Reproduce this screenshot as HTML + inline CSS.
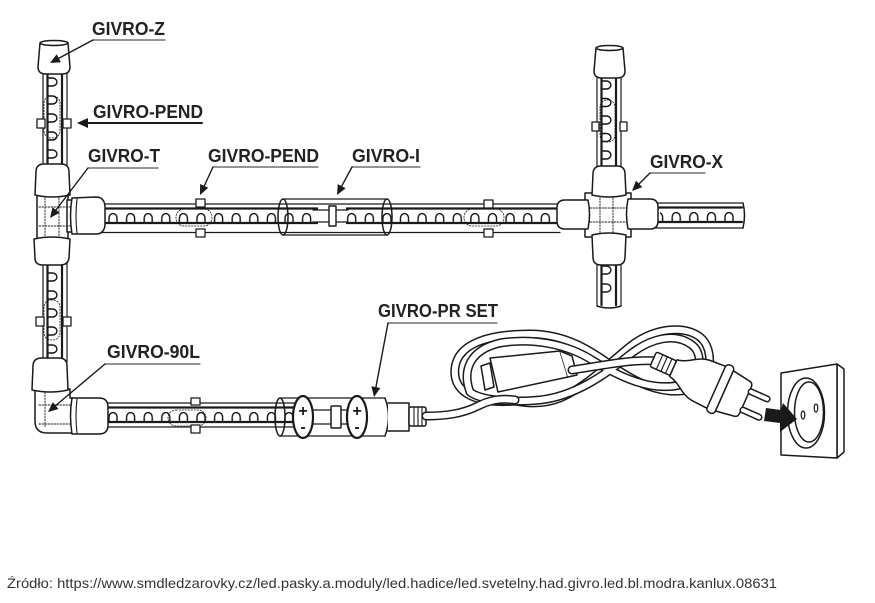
<!DOCTYPE html>
<html><head><meta charset="utf-8">
<style>
html,body{margin:0;padding:0;background:#fff;width:875px;height:603px;overflow:hidden}
svg{display:block}
.l{font-family:"Liberation Sans",Arial,sans-serif;font-weight:bold;font-size:18px;fill:#222}
</style></head><body>
<svg width="875" height="603" viewBox="0 0 875 603" xmlns="http://www.w3.org/2000/svg">
<defs>
<pattern id="lh1" patternUnits="userSpaceOnUse" x="104.2" y="0" width="17.6" height="40"><path d="M4.8,19 v-5 a4,4.4 0 0 1 8,0 v5" fill="none" stroke="#111" stroke-width="1.4"/></pattern>
<pattern id="lh2" patternUnits="userSpaceOnUse" x="342.9" y="0" width="17.6" height="40"><path d="M4.8,19 v-5 a4,4.4 0 0 1 8,0 v5" fill="none" stroke="#111" stroke-width="1.4"/></pattern>
<pattern id="lv1" patternUnits="userSpaceOnUse" x="4.5" y="73" width="40" height="18"><path d="M0,5 h5 a4.4,4 0 0 1 0,8 h-5" fill="none" stroke="#111" stroke-width="1.4"/></pattern>
<pattern id="lv2" patternUnits="userSpaceOnUse" x="4.5" y="268" width="40" height="18"><path d="M0,5 h5 a4.4,4 0 0 1 0,8 h-5" fill="none" stroke="#111" stroke-width="1.4"/></pattern>
<pattern id="lv3" patternUnits="userSpaceOnUse" x="4.5" y="76" width="40" height="17.5"><path d="M0,5 h5 a4.4,4 0 0 1 0,8 h-5" fill="none" stroke="#111" stroke-width="1.4"/></pattern>
<path id="cEntry" d="M426,416 C445,416 462,414 478,406 C490,400 500,398 515,400"/>
<path id="cA" d="M515,401 C480,404 452,395 455,368 C458,343 490,334 530,334 C565,334 590,350 612,366 C635,382 660,395 688,390 C712,385 716,350 700,337 C684,325 655,328 632,345 C610,362 590,385 560,398 C545,404 530,404 515,401"/>
<path id="cB" d="M470,392 C462,370 470,350 500,343 C530,338 565,343 592,360 C618,376 650,392 680,385 C700,380 705,355 692,345 C675,332 650,338 628,356 C605,375 575,396 540,400 C510,403 480,400 470,392"/>
<path id="cP" d="M572,370 C600,366 630,359 658,361"/>
</defs>

<g fill="none" stroke="#1a1a1a" stroke-width="1.5" stroke-linejoin="round" stroke-linecap="round">

<!-- top horizontal tube -->
<g transform="translate(0,204)">
<rect x="100" y="0" width="460" height="28.5" fill="#fff" stroke="none"/>
<rect x="104" y="8" width="214" height="12" fill="url(#lh1)" stroke="none"/>
<rect x="345" y="8" width="212" height="12" fill="url(#lh2)" stroke="none"/>
<path d="M100,0H560M100,28.5H560" stroke-width="1.2"/>
<path d="M100,4.5H318M346,4.5H560M100,19H318M346,19H560" stroke-width="2.2"/>
</g>
<!-- right tube after X -->
<g transform="translate(0,203)">
<rect x="655" y="0" width="88" height="25" fill="#fff" stroke="none"/>
<rect x="660" y="8" width="80" height="12" fill="url(#lh1)" stroke="none"/>
<path d="M655,0H743M655,25H743" stroke-width="1.2"/>
<path d="M655,4.5H742M655,19H742" stroke-width="2.2"/>
<path d="M743,0 Q746,12 743,25"/>
</g>
<!-- bottom tube -->
<g transform="translate(0,403)">
<rect x="100" y="0" width="195" height="24" fill="#fff" stroke="none"/>
<rect x="104" y="8" width="190" height="12" fill="url(#lh1)" stroke="none"/>
<path d="M100,0H295M100,24H295" stroke-width="1.2"/>
<path d="M100,4.5H295M100,19H295" stroke-width="2.2"/>
</g>
<!-- left vertical upper -->
<g transform="translate(43,0)">
<rect x="0" y="70" width="24" height="98" fill="#fff" stroke="none"/>
<rect x="3" y="73" width="14" height="92" fill="url(#lv1)" stroke="none"/>
<path d="M0,70V168M24,70V168" stroke-width="1.2"/>
<path d="M4.5,70V168M19,70V168" stroke-width="2.2"/>
</g>
<!-- left vertical lower -->
<g transform="translate(43,0)">
<rect x="0" y="260" width="24" height="102" fill="#fff" stroke="none"/>
<rect x="3" y="268" width="14" height="90" fill="url(#lv2)" stroke="none"/>
<path d="M0,260V362M24,260V362" stroke-width="1.2"/>
<path d="M4.5,260V362M19,260V362" stroke-width="2.2"/>
</g>
<!-- X vertical upper -->
<g transform="translate(597,0)">
<rect x="0" y="75" width="24" height="95" fill="#fff" stroke="none"/>
<rect x="3" y="76" width="14" height="92" fill="url(#lv3)" stroke="none"/>
<path d="M0,75V170M24,75V170" stroke-width="1.2"/>
<path d="M4.5,75V170M19,75V170" stroke-width="2.2"/>
</g>
<!-- X vertical lower -->
<g transform="translate(597,0)">
<rect x="0" y="260" width="24" height="47" fill="#fff" stroke="none"/>
<path d="M4.5,266 h5 a4.4,4 0 0 1 0,8 h-5 M4.5,284 h5 a4.4,4 0 0 1 0,8 h-5" stroke-width="1.4"/>
<path d="M0,260V306M24,260V306" stroke-width="1.2"/>
<path d="M4.5,260V305M19,260V305" stroke-width="2.2"/>
<path d="M0,306 Q12,310 24,306"/>
</g>

<!-- dotted clip zones -->
<g stroke-width="0.8" stroke-dasharray="1.5 1.5">
<rect x="44" y="96" width="16" height="42" rx="7"/>
<rect x="44" y="300" width="16" height="40" rx="7"/>
<rect x="600" y="100" width="15" height="42" rx="7"/>
<rect x="176" y="209" width="36" height="17" rx="8"/>
<rect x="464" y="209" width="40" height="17" rx="8"/>
<rect x="168" y="410" width="38" height="16" rx="8"/>
</g>
<!-- clips -->
<g fill="#fff" stroke-width="1.3">
<rect x="37" y="119" width="8" height="9"/><rect x="63" y="119" width="8" height="9"/>
<rect x="36" y="317" width="8" height="9"/><rect x="63" y="317" width="8" height="9"/>
<rect x="592" y="122" width="7" height="9"/><rect x="620" y="122" width="7" height="9"/>
<rect x="196" y="199" width="9" height="8"/><rect x="196" y="229" width="9" height="8"/>
<rect x="484" y="200" width="9" height="8"/><rect x="484" y="229" width="9" height="8"/>
<rect x="191" y="398" width="9" height="7"/><rect x="191" y="425" width="9" height="8"/>
</g>

<!-- GIVRO-I sleeve -->
<rect x="318" y="206" width="28" height="25" fill="#fff" stroke="none"/>
<path d="M313,210H330M313,222H330M336,210H348M336,222H348" stroke-width="1.3"/>
<rect x="329" y="206" width="7" height="20" fill="#fff" stroke-width="1.4"/>
<path d="M283,199H387M283,235H387" stroke-width="1.3"/>
<ellipse cx="283" cy="217" rx="5" ry="18"/>
<ellipse cx="387" cy="217" rx="5" ry="18"/>

<!-- Z cap -->
<path d="M40,43 L38,67 Q38,74 46,74 H62 Q70,74 70,67 L68,43 Z" fill="#fff"/>
<ellipse cx="54" cy="43" rx="14" ry="2.5" fill="#fff"/>
<!-- X top cap -->
<path d="M596,48 L594,71 Q594,78 602,78 H617 Q625,78 625,71 L623,48 Z" fill="#fff"/>
<ellipse cx="609.5" cy="48" rx="13.5" ry="2.5" fill="#fff"/>

<!-- T connector -->
<rect x="37" y="192" width="31" height="48" fill="#fff"/>
<rect x="67" y="200" width="8" height="32" fill="#fff"/>
<path d="M45,195V238M59,195V238M39,207H74M39,226H74" stroke-width="0.9" stroke-dasharray="1.5 1.5"/>
<path d="M35,195 L36,172 Q36,164 44,164 H61 Q69,164 69,172 L70,195 Q52,199 35,195 Z" fill="#fff"/>
<path d="M72,198 L96,197 Q104,197 105,206 L105,225 Q104,234 96,234 L72,234 Q69,216 72,198 Z" fill="#fff"/>
<path d="M77,199 Q75,216 77,233" stroke-width="1.1"/>
<path d="M34,239 Q52,235 70,239 L69,258 Q68,265 60,265 H43 Q35,265 35,258 Z" fill="#fff"/>

<!-- Elbow 90L -->
<path d="M35,389 H70 V398 H73 V433 H47 Q35,433 35,421 Z" fill="#fff"/>
<path d="M45,392V428M39,424H72M39,405H72" stroke-width="0.9" stroke-dasharray="1.5 1.5"/>
<path d="M32,390 L33,366 Q33,358 42,358 H59 Q67,358 67,366 L68,390 Q50,394 32,390 Z" fill="#fff"/>
<path d="M72,398 H99 Q108,398 108,407 V425 Q108,434 99,434 H72 Q69,416 72,398 Z" fill="#fff"/>
<path d="M77,399 Q75,416 77,433" stroke-width="1.1"/>

<!-- X connector -->
<rect x="585" y="193" width="46" height="44" fill="#fff"/>
<path d="M600,195V235M613,195V235M587,208H629M587,222H629" stroke-width="0.9" stroke-dasharray="1.5 1.5"/>
<path d="M592,195 L593,174 Q593,166 601,166 H617 Q625,166 625,174 L626,195 Q609,199 592,195 Z" fill="#fff"/>
<path d="M592,235 Q609,231 626,235 L625,257 Q625,265 617,265 H601 Q593,265 593,257 Z" fill="#fff"/>
<path d="M588,200 H565 Q557,200 557,208 V221 Q557,229 565,229 H588 Q591,214 588,200 Z" fill="#fff"/>
<path d="M628,199 H650 Q658,199 658,207 V221 Q658,229 650,229 H628 Q625,214 628,199 Z" fill="#fff"/>

<!-- PR SET -->
<path d="M280,398H385M280,436H385" stroke-width="1.3"/>
<ellipse cx="280" cy="417" rx="5" ry="19"/>
<path d="M313,410H333M313,424H333M341,410H348M341,424H348" stroke-width="1.3"/>
<rect x="331" y="406" width="10" height="22" rx="1" fill="#fff"/>
<ellipse cx="303" cy="417" rx="10" ry="21" fill="#fff" stroke-width="2.2"/>
<ellipse cx="357" cy="417" rx="10" ry="21" fill="#fff" stroke-width="2.2"/>
<path d="M385,398 Q392,417 385,436"/>
<path d="M388,403 H409 V431 H388" fill="#fff"/>
<rect x="409" y="407" width="17" height="19" rx="2" fill="#fff"/>
<path d="M414,407V426M418,407V426M422,407V426" stroke-width="1.1"/>

<!-- cable -->
<use href="#cA" stroke="#1a1a1a" stroke-width="9"/><use href="#cA" stroke="#fff" stroke-width="6"/>
<use href="#cB" stroke="#1a1a1a" stroke-width="9"/><use href="#cB" stroke="#fff" stroke-width="6"/>
<use href="#cEntry" stroke="#1a1a1a" stroke-width="9"/><use href="#cEntry" stroke="#fff" stroke-width="6"/>
<path d="M481,366 L490,363 L494,387 L485,390 Z" fill="#fff"/>
<path d="M490,358 L560,351 L568,377 L498,392 Z" fill="#fff"/>
<path d="M560,351 L572,356 L577,375 L568,377" fill="#fff"/>
<use href="#cP" stroke="#1a1a1a" stroke-width="9"/><use href="#cP" stroke="#fff" stroke-width="6"/>

<!-- plug -->
<g transform="translate(655,360) rotate(24)" fill="#fff">
<rect x="-2" y="-8" width="22" height="16" rx="2"/>
<path d="M5,-8V8M10,-8V8M15,-8V8" fill="none" stroke-width="1.1"/>
<path d="M20,-9 C32,-11 38,-21 50,-22 L68,-23 L68,23 L50,22 C38,21 32,11 20,9 Z"/>
<rect x="67" y="-26" width="9" height="52" rx="4"/>
<path d="M76,-22 L96,-19 Q99,-18 99,-14 L99,14 Q99,18 96,19 L76,22 Z"/>
<rect x="98" y="-12.75" width="23" height="5.5" rx="2.7"/>
<rect x="98" y="7.25" width="23" height="5.5" rx="2.7"/>
</g>

<!-- socket -->
<path d="M837,364 L844,369 L844,452 L837,458 Z" fill="#fff"/>
<path d="M781,373 L837,364 L837,458 L781,455 Z" fill="#fff"/>
<ellipse cx="806" cy="413" rx="18.5" ry="35" fill="#fff"/>
<ellipse cx="809" cy="412" rx="14.5" ry="30"/>
<ellipse cx="803" cy="415" rx="1.8" ry="4" stroke-width="1.2"/>
<ellipse cx="816" cy="408" rx="1.8" ry="4" stroke-width="1.2"/>

<!-- black arrow (over socket) -->
<polygon points="766,408 781,410 783,403 797,419 780,432 780,423 764,421" fill="#1a1a1a" stroke="none"/>

<!-- leaders / underlines -->
<g stroke="#555" stroke-width="1.2">
<path d="M93,40H165M88,168H158M213,167H318M352,167H420M650,173H705M388,323H497M105,364H200"/>
</g>
<g stroke-width="1.4">
<path d="M93,40L58.8,58.3"/>
<path d="M202,123H86" stroke-width="2"/>
<path d="M88,168L56,210"/>
<path d="M213,167L204.2,186"/>
<path d="M352,167L341.7,186.2"/>
<path d="M650,173L639.1,183.9"/>
<path d="M388,323L375.9,387.2"/>
<path d="M105,364L55.6,405.6"/>
</g>
<g fill="#1a1a1a" stroke="none">
<polygon points="50,63 56.7,54.3 60.9,62.3"/>
<polygon points="77,123 88,118 88,128"/>
<polygon points="50,218 59.6,212.8 52.5,207.3"/>
<polygon points="200,195 208.3,187.8 200.1,184"/>
<polygon points="337,195 345.7,188.3 337.8,184.1"/>
<polygon points="632,191 642.3,187.1 635.9,180.7"/>
<polygon points="374,397 380.3,388 371.4,386.3"/>
<polygon points="48,412 58.5,409 52.8,402.1"/>
</g>
</g>

<!-- labels -->
<text class="l" x="92" y="35" textLength="73" lengthAdjust="spacingAndGlyphs">GIVRO-Z</text>
<text class="l" x="93" y="118" textLength="110" lengthAdjust="spacingAndGlyphs">GIVRO-PEND</text>
<text class="l" x="88" y="162" textLength="72" lengthAdjust="spacingAndGlyphs">GIVRO-T</text>
<text class="l" x="208" y="162" textLength="111" lengthAdjust="spacingAndGlyphs">GIVRO-PEND</text>
<text class="l" x="352" y="162" textLength="68" lengthAdjust="spacingAndGlyphs">GIVRO-I</text>
<text class="l" x="650" y="168" textLength="73" lengthAdjust="spacingAndGlyphs">GIVRO-X</text>
<text class="l" x="378" y="317" textLength="120" lengthAdjust="spacingAndGlyphs">GIVRO-PR SET</text>
<text class="l" x="107" y="358" textLength="93" lengthAdjust="spacingAndGlyphs">GIVRO-90L</text>
<text x="303" y="416" text-anchor="middle" font-family="Liberation Sans,sans-serif" font-weight="bold" font-size="16" fill="#1a1a1a">+</text>
<text x="303" y="432" text-anchor="middle" font-family="Liberation Sans,sans-serif" font-weight="bold" font-size="16" fill="#1a1a1a">-</text>
<text x="357" y="416" text-anchor="middle" font-family="Liberation Sans,sans-serif" font-weight="bold" font-size="16" fill="#1a1a1a">+</text>
<text x="357" y="432" text-anchor="middle" font-family="Liberation Sans,sans-serif" font-weight="bold" font-size="16" fill="#1a1a1a">-</text>

<text x="7" y="588" font-family="Liberation Sans,sans-serif" font-size="14" fill="#333" textLength="770" lengthAdjust="spacingAndGlyphs">Źródło: https://www.smdledzarovky.cz/led.pasky.a.moduly/led.hadice/led.svetelny.had.givro.led.bl.modra.kanlux.08631</text>
</svg>
</body></html>
